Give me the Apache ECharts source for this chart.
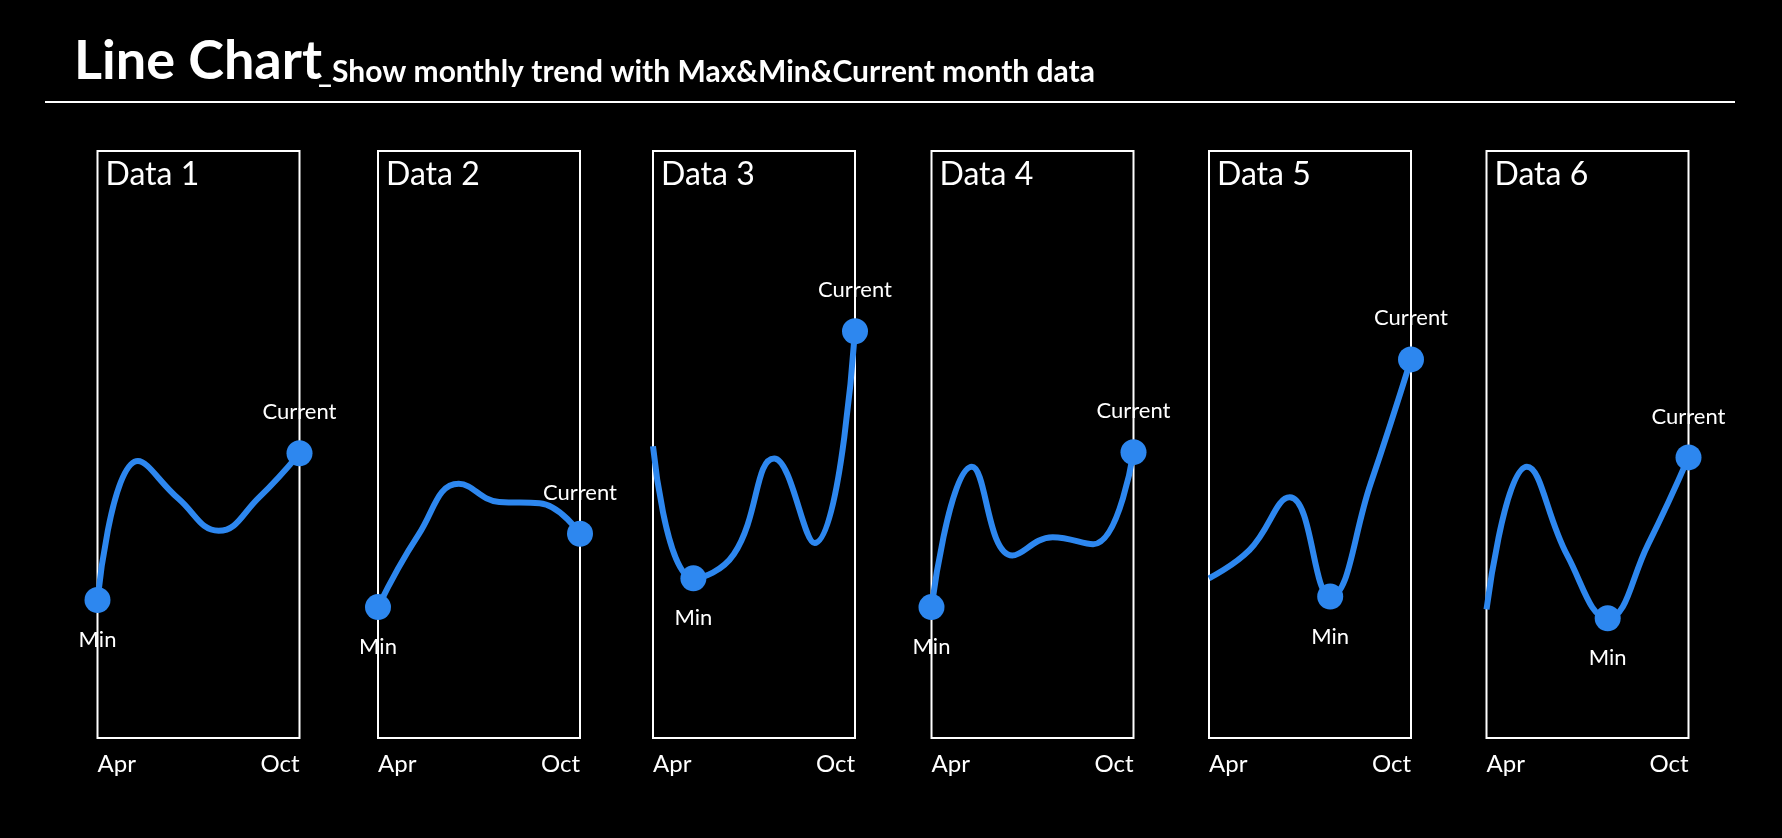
<!DOCTYPE html>
<html>
<head>
<meta charset="utf-8">
<script src="https://cdn.jsdelivr.net/npm/echarts@6/dist/echarts.min.js"></script>
<style>
html,body{margin:0;padding:0;background:#000;}
#chart{width:1782px;height:838px;}
</style>
</head>
<body>
<div id="chart"></div>
<script>
const titleMain = 'Line Chart';
const titleSub = '_Show monthly trend with Max&Min&Current month data';
const panelNames = ['Data 1', 'Data 2', 'Data 3', 'Data 4', 'Data 5', 'Data 6'];
const months = ['Apr', 'May', 'Jun', 'Jul', 'Aug', 'Oct'];
const data1 = [23.5, 47.2, 40.8, 35.3, 41.0, 48.5];
const data2 = [22.3, 34.6, 43.3, 40.2, 40.0, 34.8];
const data3 = [49.7, 27.2, 31.3, 47.6, 33.2, 69.3];
const data4 = [22.3, 46.2, 31.1, 34.2, 33.0, 48.7];
const data5 = [27.2, 32.0, 41.0, 24.1, 43.3, 64.5];
const data6 = [21.9, 46.2, 31.1, 20.4, 33.0, 47.8];
const allData = [data1, data2, data3, data4, data5, data6];

const FONT = 'Lato, "Open Sans", sans-serif';
const BLUE = '#2d87ef';
const gridLefts = [97.5, 378, 653, 931.5, 1209, 1486.5];
const gridW = 202, gridTop = 151, gridH = 587;

const chart = echarts.init(document.getElementById('chart'));
const grids = [], xAxes = [], yAxes = [], series = [], graphics = [];

graphics.push({type:'text', left:74, top:35, style:{text:titleMain, fill:'#fff', font:'bold 54px ' + FONT}});
graphics.push({type:'text', left:318, top:57, style:{text:titleSub, fill:'#fff', font:'bold 30px ' + FONT}});
graphics.push({type:'line', shape:{x1:45, y1:102, x2:1735, y2:102}, style:{stroke:'#fff', lineWidth:2}});

allData.forEach((d, k) => {
  const left = gridLefts[k];
  grids.push({left:left, top:gridTop, width:gridW, height:gridH, show:true, borderColor:'#fff', borderWidth:2, backgroundColor:'transparent'});
  xAxes.push({
    type:'category', gridIndex:k, data:months, boundaryGap:false,
    axisLine:{show:false}, axisTick:{show:false}, splitLine:{show:false},
    axisLabel:{
      color:'#fff', fontSize:24, fontFamily:FONT, margin:14,
      interval:0,
      formatter:(v, i) => (i === 0 || i === months.length - 1) ? v : '',
      alignMinLabel:'left', alignMaxLabel:'right'
    }
  });
  yAxes.push({type:'value', gridIndex:k, min:0, max:100, show:false, splitLine:{show:false}});
  graphics.push({type:'text', left:left + 8, top:gridTop + 8, style:{text:panelNames[k], fill:'#fff', font:'32px ' + FONT}});
  const minVal = Math.min(...d);
  const minIdx = d.indexOf(minVal);
  const last = d.length - 1;
  const items = d.map((v, i) => {
    if (i === last) {
      return {value:v, symbol:'circle', symbolSize:26,
        label:{show:true, position:'top', distance:17, formatter:'Current', color:'#fff', fontSize:22, fontFamily:FONT}};
    }
    if (i === minIdx) {
      return {value:v, symbol:'circle', symbolSize:26,
        label:{show:true, position:'bottom', distance:16, formatter:'Min', color:'#fff', fontSize:22, fontFamily:FONT}};
    }
    return {value:v, symbol:'none'};
  });
  series.push({
    type:'line', xAxisIndex:k, yAxisIndex:k, data:items, smooth:0.45, clip:false,
    showSymbol:true, showAllSymbol:true, symbol:'none',
    lineStyle:{color:BLUE, width:6}, itemStyle:{color:BLUE},
    emphasis:{disabled:true}, animation:false
  });
});

chart.setOption({
  backgroundColor:'#000',
  animation:false,
  grid:grids, xAxis:xAxes, yAxis:yAxes, series:series,
  graphic:graphics
});
</script>
</body>
</html>
